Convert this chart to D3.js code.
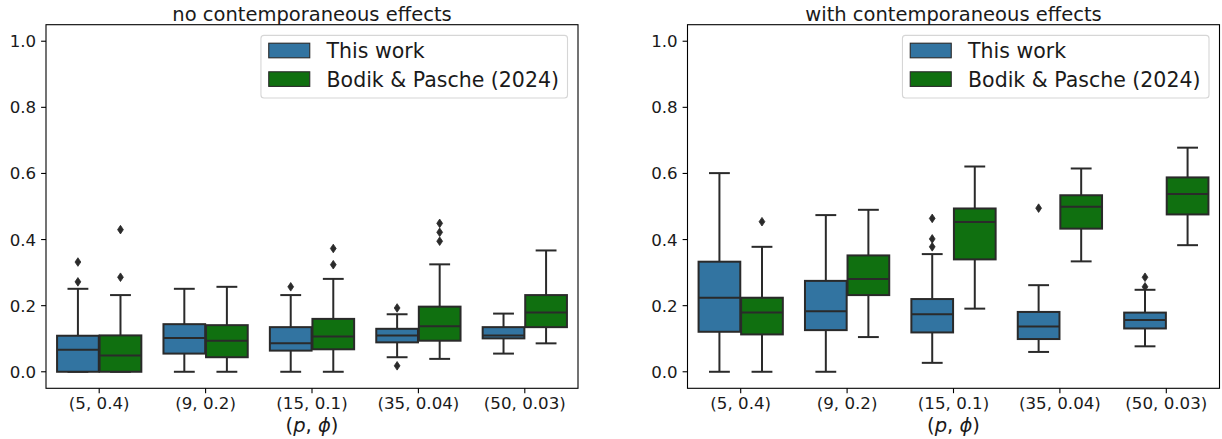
<!DOCTYPE html>
<html>
<head>
<meta charset="utf-8">
<script src="https://cdn.jsdelivr.net/npm/d3@7"></script>
<style>
  body { margin: 0; background: #fff; }
  text { font-family: "DejaVu Sans", sans-serif; fill: #1a1a1a; }
</style>
</head>
<body>
<div id="app"></div>
<script>
// categories and tick labels
const categories = ['(5, 0.4)', '(9, 0.2)', '(15, 0.1)', '(35, 0.04)', '(50, 0.03)'];
const seriesNames = ['This work', 'Bodik & Pasche (2024)'];
const yTicks = [0, 0.2, 0.4, 0.6, 0.8, 1.0];
const panelTitles = ['no contemporaneous effects', 'with contemporaneous effects'];

// no contemporaneous effects - This work
const noThisQ1 = [0.0, 0.055, 0.064, 0.089, 0.101];
const noThisMed = [0.067, 0.102, 0.086, 0.110, 0.110];
const noThisQ3 = [0.109, 0.144, 0.135, 0.130, 0.135];
const noThisLo = [0.0, 0.0, 0.0, 0.044, 0.055];
const noThisHi = [0.251, 0.251, 0.232, 0.174, 0.176];
const noThisFliers = [[0.332, 0.272], [], [0.257], [0.193, 0.018], []];

// no contemporaneous effects - Bodik & Pasche
const noBodQ1 = [0.0, 0.044, 0.068, 0.094, 0.135];
const noBodMed = [0.049, 0.094, 0.107, 0.138, 0.179];
const noBodQ3 = [0.110, 0.141, 0.160, 0.197, 0.232];
const noBodLo = [0.0, 0.0, 0.0, 0.039, 0.086];
const noBodHi = [0.232, 0.257, 0.281, 0.325, 0.367];
const noBodFliers = [[0.430, 0.286], [], [0.373, 0.324], [0.449, 0.422, 0.395], []];

// with contemporaneous effects - This work
const withThisQ1 = [0.121, 0.126, 0.119, 0.099, 0.131];
const withThisMed = [0.224, 0.183, 0.174, 0.137, 0.157];
const withThisQ3 = [0.333, 0.275, 0.220, 0.181, 0.179];
const withThisLo = [0.0, 0.0, 0.027, 0.060, 0.077];
const withThisHi = [0.601, 0.474, 0.356, 0.262, 0.248];
const withThisFliers = [[], [], [0.464, 0.402, 0.378], [0.495], [0.286, 0.257]];

// with contemporaneous effects - Bodik & Pasche
const withBodQ1 = [0.113, 0.232, 0.340, 0.433, 0.476];
const withBodMed = [0.179, 0.281, 0.453, 0.499, 0.538];
const withBodQ3 = [0.224, 0.352, 0.494, 0.534, 0.588];
const withBodLo = [0.0, 0.105, 0.191, 0.334, 0.383];
const withBodHi = [0.378, 0.490, 0.621, 0.615, 0.678];
const withBodFliers = [[0.454], [], [], [], []];

// build per-box records from the arrays
function makeBoxes(series, q1, med, q3, lo, hi, fliers) {
  return categories.map((c, i) => ({
    cat: c, series, q1: q1[i], med: med[i], q3: q3[i], lo: lo[i], hi: hi[i], fliers: fliers[i]
  }));
}

const panels = [
  {
    title: panelTitles[0],
    left: 46,
    boxes: makeBoxes(seriesNames[0], noThisQ1, noThisMed, noThisQ3, noThisLo, noThisHi, noThisFliers)
      .concat(makeBoxes(seriesNames[1], noBodQ1, noBodMed, noBodQ3, noBodLo, noBodHi, noBodFliers))
  },
  {
    title: panelTitles[1],
    left: 687.5,
    boxes: makeBoxes(seriesNames[0], withThisQ1, withThisMed, withThisQ3, withThisLo, withThisHi, withThisFliers)
      .concat(makeBoxes(seriesNames[1], withBodQ1, withBodMed, withBodQ3, withBodLo, withBodHi, withBodFliers))
  }
];

const width = 1222;
const height = 439;
const plotW = 532;
const plotTop = 24.7;
const plotBottom = 388.3;
const lineColor = '#2a2a2a';

const color = d3.scaleOrdinal()
  .domain(seriesNames)
  .range(['#3274a1', '#107010']);

const svg = d3.select('#app')
  .append('svg')
  .attr('width', width)
  .attr('height', height);

function buildPanel(panel) {
  const g = svg.append('g')
    .attr('transform', `translate(${panel.left}, 0)`);

  const x = d3.scaleBand()
    .domain(categories)
    .range([0, plotW]);

  const sub = d3.scaleBand()
    .domain(seriesNames)
    .range([x.bandwidth() * 0.1, x.bandwidth() * 0.9]);

  const y = d3.scaleLinear()
    .domain([-0.05, 1.05])
    .range([plotBottom, plotTop]);

  const boxW = sub.bandwidth() * 0.98;
  const capW = boxW * 0.5;
  const cx = d => x(d.cat) + sub(d.series) + sub.bandwidth() / 2;

  const boxes = g.append('g').selectAll('g')
    .data(panel.boxes)
    .join('g');

  // whiskers
  boxes.append('line')
    .attr('x1', cx).attr('x2', cx)
    .attr('y1', d => y(d.q3)).attr('y2', d => y(d.hi))
    .style('stroke', lineColor).style('stroke-width', 2);
  boxes.append('line')
    .attr('x1', cx).attr('x2', cx)
    .attr('y1', d => y(d.q1)).attr('y2', d => y(d.lo))
    .style('stroke', lineColor).style('stroke-width', 2);

  // caps
  [d => d.hi, d => d.lo].forEach(acc => {
    boxes.append('line')
      .attr('x1', d => cx(d) - capW / 2).attr('x2', d => cx(d) + capW / 2)
      .attr('y1', d => y(acc(d))).attr('y2', d => y(acc(d)))
      .style('stroke', lineColor).style('stroke-width', 2);
  });

  // boxes
  boxes.append('rect')
    .attr('x', d => cx(d) - boxW / 2)
    .attr('width', boxW)
    .attr('y', d => y(d.q3))
    .attr('height', d => y(d.q1) - y(d.q3))
    .style('fill', d => color(d.series))
    .style('stroke', lineColor)
    .style('stroke-width', 2);

  // medians
  boxes.append('line')
    .attr('x1', d => cx(d) - boxW / 2).attr('x2', d => cx(d) + boxW / 2)
    .attr('y1', d => y(d.med)).attr('y2', d => y(d.med))
    .style('stroke', lineColor).style('stroke-width', 2);

  // fliers (thin diamonds)
  boxes.selectAll('path')
    .data(d => d.fliers.map(v => ({v, cx: cx(d)})))
    .join('path')
    .attr('d', f => {
      const px = f.cx, py = y(f.v);
      return `M${px},${py - 4.3}L${px + 2.9},${py}L${px},${py + 4.3}L${px - 2.9},${py}Z`;
    })
    .style('fill', lineColor)
    .style('stroke', lineColor)
    .style('stroke-width', 0.8);

  // frame
  g.append('rect')
    .attr('x', 0).attr('y', plotTop)
    .attr('width', plotW).attr('height', plotBottom - plotTop)
    .style('fill', 'none')
    .style('stroke', '#000')
    .style('stroke-width', 1.1);

  // y axis
  const yAxis = g.append('g');
  yAxis.selectAll('line')
    .data(yTicks)
    .join('line')
    .attr('x1', -4.9).attr('x2', 0)
    .attr('y1', d => y(d)).attr('y2', d => y(d))
    .style('stroke', '#000').style('stroke-width', 1.1);
  yAxis.selectAll('text')
    .data(yTicks)
    .join('text')
    .attr('x', -9.8)
    .attr('y', d => y(d))
    .attr('dy', '0.36em')
    .attr('text-anchor', 'end')
    .style('font-size', '16.67px')
    .text(d => d3.format('.1f')(d));

  // x axis
  const xAxis = g.append('g');
  xAxis.selectAll('line')
    .data(categories)
    .join('line')
    .attr('x1', d => x(d) + x.bandwidth() / 2).attr('x2', d => x(d) + x.bandwidth() / 2)
    .attr('y1', plotBottom).attr('y2', plotBottom + 4.9)
    .style('stroke', '#000').style('stroke-width', 1.1);
  xAxis.selectAll('text')
    .data(categories)
    .join('text')
    .attr('x', d => x(d) + x.bandwidth() / 2)
    .attr('y', 408.5)
    .attr('text-anchor', 'middle')
    .style('font-size', '16.67px')
    .text(d => d);

  // x label (p, phi)
  const xl = g.append('text')
    .attr('x', plotW / 2)
    .attr('y', 431.5)
    .attr('text-anchor', 'middle')
    .style('font-size', '19.5px');
  xl.append('tspan').text('(');
  xl.append('tspan').style('font-style', 'italic').text('p');
  xl.append('tspan').text(', ');
  xl.append('tspan').style('font-style', 'italic').text('\u03d5');
  xl.append('tspan').text(')');

  // title
  g.append('text')
    .attr('x', plotW / 2)
    .attr('y', 20.5)
    .attr('text-anchor', 'middle')
    .style('font-size', '19.5px')
    .text(panel.title);

  // legend
  const legend = g.append('g');
  const legendBg = legend.append('rect');
  const texts = legend.selectAll('text')
    .data(seriesNames)
    .join('text')
    .attr('y', (d, i) => 58 + i * 28.5)
    .style('font-size', '20.5px')
    .text(d => d);
  let maxW = 0;
  texts.each(function() { maxW = Math.max(maxW, this.getComputedTextLength()); });
  const legW = 65.6 + maxW + 8.5;
  const legX = plotW - 10.5 - legW;
  texts.attr('x', legX + 65.6);
  legendBg
    .attr('x', legX).attr('y', 35.4)
    .attr('width', legW).attr('height', 62.6)
    .attr('rx', 3)
    .style('fill', 'rgba(255,255,255,0.8)')
    .style('stroke', '#d6d6d6')
    .style('stroke-width', 1.1);
  legend.selectAll('rect.patch')
    .data(seriesNames)
    .join('rect')
    .attr('class', 'patch')
    .attr('x', legX + 7.8)
    .attr('y', (d, i) => 43.2 + i * 28.6)
    .attr('width', 41)
    .attr('height', 14.6)
    .style('fill', d => color(d))
    .style('stroke', lineColor)
    .style('stroke-width', 1.1);
}

panels.forEach(buildPanel);
</script>
</body>
</html>
